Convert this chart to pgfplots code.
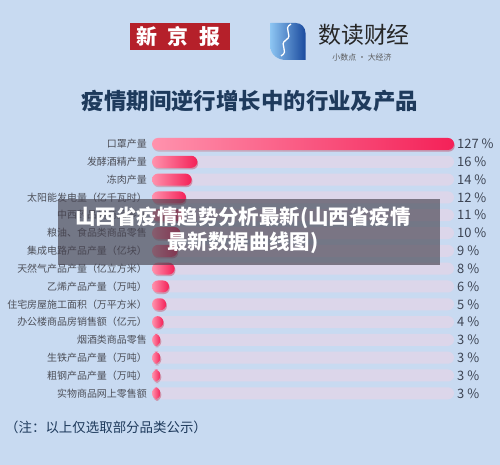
\documentclass[border=0pt]{standalone}
\usepackage{pgfplots}
\pgfplotsset{compat=1.18}
\usepackage{fontspec}
\setmainfont{Noto Sans CJK SC}
\usetikzlibrary{shadows}
\definecolor{bg}{HTML}{C8DAF1}
\definecolor{track}{HTML}{DCD6EA}
\definecolor{pinkL}{HTML}{FF92AD}
\definecolor{pinkM}{HTML}{F9648A}
\definecolor{pinkR}{HTML}{F42158}
\definecolor{titlec}{HTML}{1E3A5C}
\definecolor{labelc}{HTML}{4D4F58}
\definecolor{valc}{HTML}{3C4352}
\definecolor{logored}{HTML}{B5202A}
\definecolor{iconL}{HTML}{8CC4F2}
\definecolor{iconD}{HTML}{1A4A9E}
\pgfplotsset{pbar/.style={draw=none, left color=pinkL, middle color=pinkM, right color=pinkR, rounded corners=6bp,
  drop shadow={opacity=0.3, shadow xshift=0.8bp, shadow yshift=-1.6bp},
  restrict x to domain*=0:106.7, forget plot}}
\begin{document}
\begin{tikzpicture}
\begin{scope}[x=1bp,y=1bp]
\fill[bg] (0,0) rectangle (500,465);
\path[use as bounding box] (0,0) rectangle (500,465);
% header logos
\fill[logored] (130,415) rectangle (230,442.3);
\foreach \c/\xx in {新/147,京/178,报/210}{
  \node[text=white, font=\fontsize{21}{21}\selectfont\bfseries, inner sep=0pt] at (\xx,428.5) {\c};
}
\shade[left color=iconL, right color=iconD] (270.5,442) -- (296,442) to[out=0,in=90] (305.5,432) -- (305.5,405) -- (286,405) to[out=180,in=-90] (270.5,418) -- cycle;
\draw[white, line width=1.3bp] (291,441) .. controls (282,436) and (294,430) .. (286,425) .. controls (278,420) and (290,414) .. (281,409);
\node[text=black!85, font=\fontsize{23}{23}\selectfont, inner sep=0pt] at (364,430) {数读财经};
\node[text=black!65, font=\fontsize{8}{8}\selectfont, inner sep=0pt] at (362,408) {小数点 · 大经济};
% title
\node[text=titlec, font=\fontsize{22.5}{22.5}\selectfont\bfseries, inner sep=0pt] at (250,364) {疫情期间逆行增长中的行业及产品};
\end{scope}
% chart
\begin{axis}[
  at={(152bp,62.8bp)}, anchor=south west, scale only axis,
  width=302bp, height=267.1bp,
  xmin=0, xmax=106.7, ymin=-0.5, ymax=14.5, y dir=reverse,
  axis line style={draw=none}, xtick=\empty, ytick={0,...,14},
  major tick length=0pt,
  yticklabels={口罩产量,发酵酒精产量,冻肉产量,太阳能发电量（亿千瓦时）,中西药品类商品零售,粮油、食品类商品零售,集成电路产品产量（亿块）,天然气产品产量（亿立方米）,乙烯产品产量（万吨）,住宅房屋施工面积（万平方米）,办公楼商品房销售额（亿元）,烟酒类商品零售,生铁产品产量（万吨）,粗钢产品产量（万吨）,实物商品网上零售额},
  yticklabel style={font=\fontsize{10}{10}\selectfont, text=labelc, inner xsep=0pt, xshift=-5bp},
  xbar, bar width=12bp, bar shift=0pt,
  clip=false,
]
\addplot[draw=none, fill=track, rounded corners=6bp] coordinates {
(106.7,0) (106.7,1) (106.7,2) (106.7,3) (106.7,4) (106.7,5) (106.7,6) (106.7,7)
(106.7,8) (106.7,9) (106.7,10) (106.7,11) (106.7,12) (106.7,13) (106.7,14)};
\addplot[pbar] coordinates {(127,0)};
\addplot[pbar] coordinates {(16,1)};
\addplot[pbar] coordinates {(14,2)};
\addplot[pbar] coordinates {(12,3)};
\addplot[pbar] coordinates {(11,4)};
\addplot[pbar] coordinates {(10,5)};
\addplot[pbar] coordinates {(9,6)};
\addplot[pbar] coordinates {(8,7)};
\addplot[pbar] coordinates {(6,8)};
\addplot[pbar] coordinates {(5,9)};
\addplot[pbar] coordinates {(4,10)};
\addplot[pbar] coordinates {(3,11)};
\addplot[pbar] coordinates {(3,12)};
\addplot[pbar] coordinates {(3,13)};
\addplot[pbar] coordinates {(3,14)};
\end{axis}
\begin{axis}[
  at={(152bp,62.8bp)}, anchor=south west, scale only axis,
  width=302bp, height=267.1bp,
  xmin=0, xmax=1, ymin=-0.5, ymax=14.5, y dir=reverse,
  axis line style={draw=none}, xtick=\empty, ytick={0,...,14},
  major tick length=0pt, yticklabel pos=right,
  yticklabels={127 \%,16 \%,14 \%,12 \%,11 \%,10 \%,9 \%,8 \%,6 \%,5 \%,4 \%,3 \%,3 \%,3 \%,3 \%},
  yticklabel style={font=\fontsize{13}{13}\selectfont, text=valc, inner xsep=0pt, xshift=3bp},
]
\addplot[draw=none, forget plot] coordinates {(0,0) (0,14)};
\end{axis}
\begin{scope}[x=1bp,y=1bp]
% note
\node[anchor=west, text=titlec, font=\fontsize{13.5}{13.5}\selectfont, inner sep=0pt] at (5,38) {（注：以上仅选取部分品类公示）};
% overlay
\fill[fill={rgb,255:red,70;green,66;blue,78}, opacity=0.65] (58,200) rectangle (440,266);
\node[text=white, font=\fontsize{20.5}{25}\selectfont\bfseries, align=center, inner sep=0pt] at (243,234.5) {山西省疫情趋势分析最新(山西省疫情\\最新数据曲线图)};
\end{scope}
\end{tikzpicture}
\end{document}
